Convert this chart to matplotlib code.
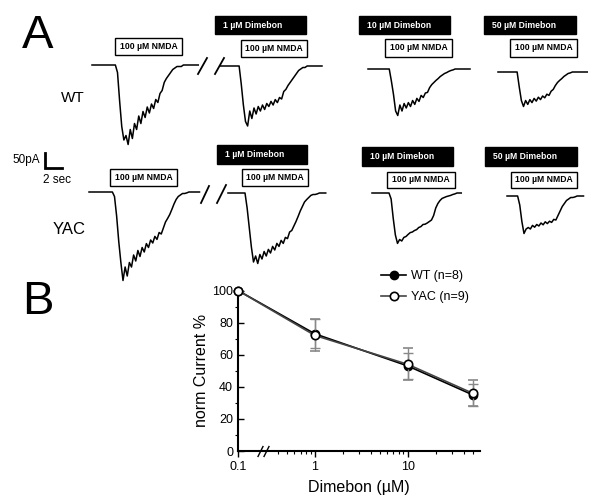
import numpy as np
import matplotlib
matplotlib.use('Agg')
import matplotlib.pyplot as plt
from matplotlib.patches import Rectangle
from matplotlib.ticker import FixedLocator

plt.rcParams['font.family'] = ['Liberation Sans', 'DejaVu Sans']

# ---------------- data ----------------
# panel A: whole-cell currents (pA), sampled every 0.25 s
DT = 0.25
wt_ctrl = [0] * 12 + [
    -25, -120, -205, -250, -235, -265, -215, -245, -195, -215, -170, -195,
    -155, -175, -140, -160, -130, -145, -115, -125, -95, -85, -58, -45,
    -35, -25, -15, -10, -5, -5, -5, 0] + [0] * 7
wt_1 = [0] * 10 + [
    -60, -130, -185, -200, -150, -175, -140, -160, -135, -150, -130, -145,
    -125, -135, -118, -130, -112, -122, -105, -110, -85, -78, -65, -55,
    -45, -35, -25, -15, -10, -5, -5, 0] + [0] * 7
wt_10 = [0] * 11 + [
    -40, -85, -140, -155, -120, -140, -115, -130, -112, -125, -105, -118,
    -98, -108, -88, -95, -80, -78, -62, -52, -45, -38, -32, -25,
    -20, -15, -12, -8, -5, -3, 0] + [0] * 7
wt_50 = [0] * 10 + [
    -50, -95, -115, -95, -108, -92, -102, -88, -97, -84, -92, -80,
    -86, -74, -78, -64, -58, -45, -35, -28, -22, -15, -10, -5,
    -3, 0] + [0] * 7
yac_ctrl = [0] * 12 + [
    -15, -80, -165, -235, -295, -250, -280, -235, -250, -210, -230, -195,
    -215, -185, -200, -172, -185, -160, -170, -148, -158, -135, -140, -120,
    -100, -88, -75, -58, -40, -25, -15, -10, -5, -5, -3, 0] + [0] * 5
yac_1 = [0] * 9 + [
    -50, -115, -180, -230, -210, -235, -205, -220, -195, -210, -188, -200,
    -178, -190, -168, -178, -158, -168, -148, -152, -130, -125, -110, -95,
    -78, -60, -45, -30, -22, -15, -8, -5, -5, -3, 0] + [0] * 3
yac_10 = [0] * 9 + [
    -20, -85, -140, -168, -155, -160, -148, -145, -138, -132, -130, -125,
    -122, -115, -112, -105, -104, -100, -95, -90, -75, -50, -35, -25,
    -18, -15, -12, -10, -8, -5, -3, 0] + [0] * 2
yac_50 = [0] * 6 + [
    -30, -85, -125, -110, -105, -110, -98, -104, -95, -100, -90, -96,
    -86, -92, -84, -88, -78, -80, -65, -50, -35, -25, -15, -10,
    -5, -5, -3, 0] + [0] * 3

dimebon_labels = ['1 µM Dimebon', '10 µM Dimebon', '50 µM Dimebon']
nmda_label = '100 µM NMDA'

# panel B: normalised current vs dimebon concentration
dose = [0.1, 1, 10, 50]
wt_mean = [100, 73, 53, 35]
wt_err = [0, 9, 8, 7]
yac_mean = [100, 72, 54, 36]
yac_err = [0, 10, 10, 8]

# ---------------- layout ----------------
W, H = 600, 504
PX_PER_S = 8.5          # 2 s  -> 17 px
PA_PER_PX = 50 / 15     # 50 pA -> 15 px

fig = plt.figure(figsize=(W / 100, H / 100), dpi=100)
axa = fig.add_axes([0, 0, 1, 1])
axa.set_xlim(0, W)
axa.set_ylim(H, 0)
axa.axis('off')


def draw_trace(trace, x0, y0):
    t = np.arange(len(trace)) * DT
    i = np.asarray(trace, dtype=float)
    axa.plot(x0 + t * PX_PER_S, y0 - i / PA_PER_PX, color='black', lw=1.1)


def box(x0, y0, x1, y1, text, dark=False):
    axa.add_patch(Rectangle((x0, y0), x1 - x0, y1 - y0,
                            facecolor='black' if dark else 'white',
                            edgecolor='black', lw=1))
    if dark:
        axa.text(x0 + 8, (y0 + y1) / 2, text, color='white', fontsize=6.2,
                 fontweight='bold', ha='left', va='center')
    else:
        axa.text((x0 + x1) / 2, (y0 + y1) / 2, text, color='black', fontsize=6.2,
                 fontweight='bold', ha='center', va='center')


traces = [(wt_ctrl, 92, 65), (wt_1, 220, 66), (wt_10, 368, 69), (wt_50, 498, 72),
          (yac_ctrl, 89, 192), (yac_1, 228, 193), (yac_10, 372, 193), (yac_50, 507, 196)]
for tr, x0, y0 in traces:
    draw_trace(tr, x0, y0)

# break marks between control and 1 µM traces
for (xa, ya, xb, yb) in [(198, 74, 207, 58), (215, 74, 224, 58),
                         (201, 203, 209, 186), (217, 203, 226, 185)]:
    axa.plot([xa, xb], [ya, yb], color='black', lw=1.3)

# NMDA application boxes
for (x0, y0, x1, y1) in [(115, 38, 182, 55), (241, 40, 307, 57), (385, 39, 452, 57),
                         (510, 39, 577, 57), (110, 169, 177, 186), (242, 169, 308, 186),
                         (387, 172, 455, 188), (511, 172, 577, 188)]:
    box(x0, y0, x1, y1, nmda_label)

# Dimebon bars
top_bars = [(215, 16, 306, 34), (359, 16, 450, 34), (484, 16, 576, 34)]
bot_bars = [(217, 145, 307, 164), (362, 147, 453, 166), (485, 147, 577, 166)]
for bars in (top_bars, bot_bars):
    for (x0, y0, x1, y1), lab in zip(bars, dimebon_labels):
        box(x0, y0, x1, y1, lab, dark=True)

# scale bar
sx, sy = 45, 168
axa.plot([sx, sx, sx + 2 * PX_PER_S], [sy - 50 / PA_PER_PX, sy, sy],
         color='black', lw=2, solid_joinstyle='miter')
axa.text(12, 160, '50pA', fontsize=8.5, va='center')
axa.text(43, 180, '2 sec', fontsize=8.5, va='center')

axa.text(22, 36, 'A', fontsize=34, va='center')
axa.text(22, 302, 'B', fontsize=34, va='center')
axa.text(61, 98, 'WT', fontsize=11, va='center')
axa.text(53, 229, 'YAC', fontsize=12, va='center')

# ---------------- panel B ----------------
X_BREAK = -0.828
K = (np.log10(0.3) - X_BREAK) / (np.log10(0.3) + 1)


def fwd(x):
    x = np.asarray(x, dtype=float)
    lx = np.log10(np.where(x > 0, x, np.nan))
    return np.where(x >= 0.3, lx, X_BREAK + (lx + 1) * K)


def inv(y):
    y = np.asarray(y, dtype=float)
    return np.where(y >= np.log10(0.3), 10 ** y, 10 ** ((y - X_BREAK) / K - 1))


axb = fig.add_axes([238 / W, 1 - 451 / H, (480 - 238) / W, (451 - 290.5) / H])
axb.set_xscale('function', functions=(fwd, inv))
axb.set_xlim(0.1, 60)
axb.set_ylim(0, 100)

eb_wt = axb.errorbar(dose, wt_mean, yerr=wt_err, color='black', ecolor='#888888',
                     elinewidth=1, capsize=3.5, lw=1.2, marker='o', ms=6,
                     mfc='black', mec='black', clip_on=False, zorder=3)
eb_yac = axb.errorbar(dose, yac_mean, yerr=yac_err, color='#444444', ecolor='#888888',
                      elinewidth=1, capsize=3.5, lw=1.2, marker='o', ms=6,
                      mfc='white', mec='black', mew=1.2, clip_on=False, zorder=4)

axb.spines['top'].set_visible(False)
axb.spines['right'].set_visible(False)
axb.set_xticks([0.1, 1, 10])
axb.set_xticklabels(['0.1', '1', '10'])
axb.xaxis.set_minor_locator(FixedLocator([0.4, 0.5, 0.6, 0.7, 0.8, 0.9,
                                          2, 3, 4, 5, 6, 7, 8, 9, 20, 30, 40, 50]))
axb.set_yticks([0, 20, 40, 60, 80, 100])
axb.set_yticks([10, 30, 50, 70, 90], minor=True)
axb.tick_params(axis='both', which='major', labelsize=9, length=4, width=1)
axb.tick_params(axis='both', which='minor', length=2, width=0.8)
axb.tick_params(axis='y', direction='in')
axb.tick_params(axis='x', direction='out')
for s in ('left', 'bottom'):
    axb.spines[s].set_linewidth(1.5)

# axis break on the x axis
for pos in (X_BREAK + 0.24, X_BREAK + 0.30):
    axb.plot([inv(pos)], [0], marker=[(-1, -2), (1, 2)], ms=8, color='black',
             mew=1, clip_on=False)

axb.set_xlabel('Dimebon (µM)', fontsize=11.5, labelpad=5)
axb.set_ylabel('norm Current %', fontsize=11.5, labelpad=2)
axb.legend([eb_wt.lines[0], eb_yac.lines[0]], ['WT (n=8)', 'YAC (n=9)'],
           loc='upper left', bbox_to_anchor=(0.545, 1.195), frameon=False,
           fontsize=9, handlelength=2.0, handletextpad=0.35, labelspacing=0.7)

fig.savefig('out.png', dpi=100)
